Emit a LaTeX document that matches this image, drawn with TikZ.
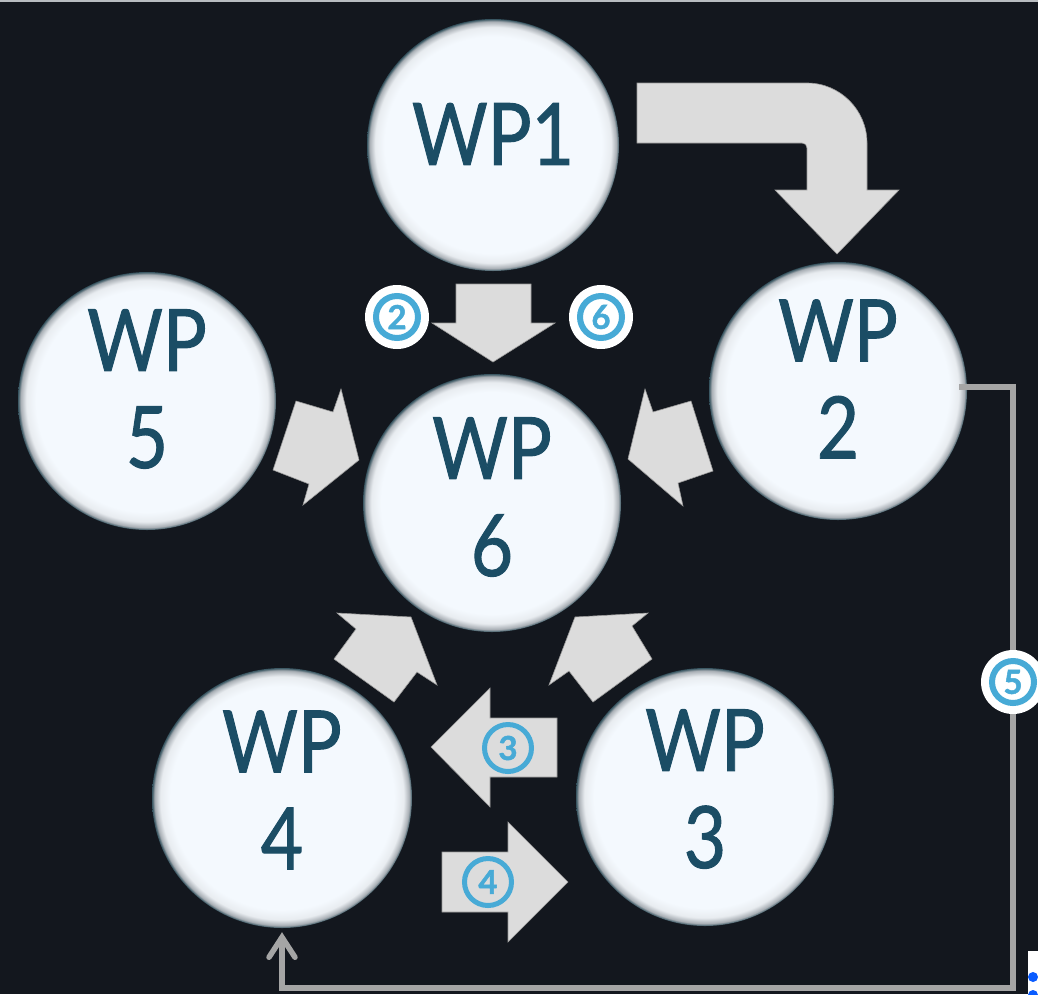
\documentclass[tikz,border=0pt]{standalone}
\usepackage{fontspec}
\usepackage{graphicx}
\setmainfont{Lato}
\newfontfamily\wpfont{Lato}[FakeBold=1.2]
\newfontfamily\digfont{Lato}[FakeBold=1.5]
\usetikzlibrary{arrows.meta}
\definecolor{bg}{HTML}{13171E}
\definecolor{ballin}{HTML}{F4F9FE}
\definecolor{ballmid}{HTML}{E8ECF0}
\definecolor{ballgray}{HTML}{A8AEB4}
\definecolor{ballrim}{HTML}{34525E}
\definecolor{wptext}{HTML}{1B4D65}
\definecolor{arrowgray}{HTML}{DCDCDC}
\definecolor{arrowedge}{HTML}{9A9A9A}
\definecolor{badgeblue}{HTML}{47AAD6}
\definecolor{connc}{HTML}{A5A5A5}
\definecolor{topline}{HTML}{B8BCC0}
\definecolor{dotblue}{HTML}{0A5CFF}
\pgfdeclareradialshading{wpball}{\pgfpoint{0bp}{0bp}}{%
  color(0bp)=(ballin); color(21.5bp)=(ballin); color(23.4bp)=(ballmid);
  color(24.5bp)=(ballgray); color(25bp)=(ballrim); color(50bp)=(ballrim)}
\newcommand\wpt[1]{\scalebox{0.85}[1]{#1}}
\begin{document}
\begin{tikzpicture}[x=1pt,y=-1pt,
  wpnode/.style={circle, shading=wpball, inner sep=0pt, minimum size=258pt},
  wptxt/.style={text=wptext, align=center, inner sep=0pt, font=\wpfont\fontsize{86}{97}\selectfont},
  bigarrow/.style={fill=arrowgray, draw=arrowedge, line width=0.6pt, line join=miter},
  badge/.style={circle, fill=white, inner sep=0pt, minimum size=64pt,
    text=badgeblue, font=\digfont\bfseries\fontsize{33}{33}\selectfont,
    path picture={\draw[badgeblue, line width=6pt] (path picture bounding box.center) circle[radius=21pt];}},
  ringbadge/.style={circle, draw=badgeblue, line width=5pt, inner sep=0pt, minimum size=47pt,
    text=badgeblue, font=\digfont\bfseries\fontsize{33}{33}\selectfont},
  conn/.style={draw=connc, line width=5.5pt}]
\useasboundingbox (0,0) rectangle (1038,994);
\fill[bg] (0,0) rectangle (1038,994);
\draw[topline, line width=2pt] (0,1) -- (1038,1);

% circles
\node[wpnode, minimum size=252pt] (wp1) at (493,145) {};
\node[wpnode] (wp5) at (147,401) {};
\node[wpnode] (wp2) at (838,391) {};
\node[wpnode] (wp6) at (492,503) {};
\node[wpnode, minimum size=260pt] (wp4) at (282,798) {};
\node[wpnode] (wp3) at (705,797) {};
% texts
\node[wptxt] (t1) at ([yshift=11pt]wp1.center) {\wpt{WP1}};
\node[wptxt] (t5) at ([yshift=12pt]wp5.center) {\wpt{WP}\\\wpt{5}};
\node[wptxt] (t2) at ([yshift=12pt]wp2.center) {\wpt{WP}\\\wpt{2}};
\node[wptxt] (t6) at ([yshift=6pt]wp6.center) {\wpt{WP}\\\wpt{6}};
\node[wptxt] (t4) at ([yshift=8pt]wp4.center) {\wpt{WP}\\\wpt{4}};
\node[wptxt] (t3) at ([yshift=8pt]wp3.center) {\wpt{WP}\\\wpt{3}};

% bent arrow WP1 -> WP2
\draw[bigarrow] (637,83) -- (807,83) .. controls (840,83) and (867,110) .. (867,143)
  -- (867,190) -- (899,190) -- (837,254) -- (775,190) -- (807,190) -- (807,148)
  .. controls (807,145) and (805,143) .. (802,143) -- (637,143) -- cycle;
% WP1 -> WP6
\draw[bigarrow] (456,284) -- (531,284) -- (531,323) -- (555,323) -- (493,362)
  -- (432,323) -- (456,323) -- cycle;
% WP5 -> WP6
\draw[bigarrow] (296,401) -- (333,412) -- (341,389) -- (359,460) -- (303,505)
  -- (309,484) -- (273,470) -- cycle;
% WP2 -> WP6
\draw[bigarrow] (645,389) -- (653,412) -- (691,401) -- (713,471) -- (678,483)
  -- (683,506) -- (628,459) -- cycle;
% WP4 -> WP6
\draw[bigarrow] (337,613) -- (411,617) -- (437,685) -- (417,672) -- (394,702)
  -- (334,659) -- (356,629) -- cycle;
% WP3 -> WP6
\draw[bigarrow] (648,613) -- (632,626) -- (652,659) -- (593,702) -- (569,671)
  -- (549,685) -- (575,617) -- cycle;
% WP3 -> WP4 (3)
\draw[bigarrow] (431,747) -- (490,688) -- (490,718) -- (557,718) -- (557,777)
  -- (490,777) -- (490,807) -- cycle;
% WP4 -> WP3 (4)
\draw[bigarrow] (442,852) -- (508,852) -- (508,822) -- (568,882) -- (508,942)
  -- (508,912) -- (442,912) -- cycle;

% connector WP2 -> WP4
\coordinate (c1) at (1013,988);
\draw[conn, -{Straight Barb[length=20pt,width=26pt,line cap=round]}]
  ([shift={(-8pt,4pt)}]wp2.east) -| (c1) -| ([yshift=-4pt]wp4.south);

% badges
\node[badge] (b2) at (397,317) {2};
\node[badge] (b6) at (601,317) {6};
\node[badge] (b5) at (1013,682) {5};
\node[ringbadge] (b3) at (508,748) {3};
\node[ringbadge] (b4) at (488,882) {4};

% bottom-right fragment
\fill[white] (1028,951) rectangle (1038,994);
\fill[dotblue] (1033,977) circle[radius=5pt];
\fill[dotblue] (1033,995) circle[radius=5pt];
\end{tikzpicture}
\end{document}
